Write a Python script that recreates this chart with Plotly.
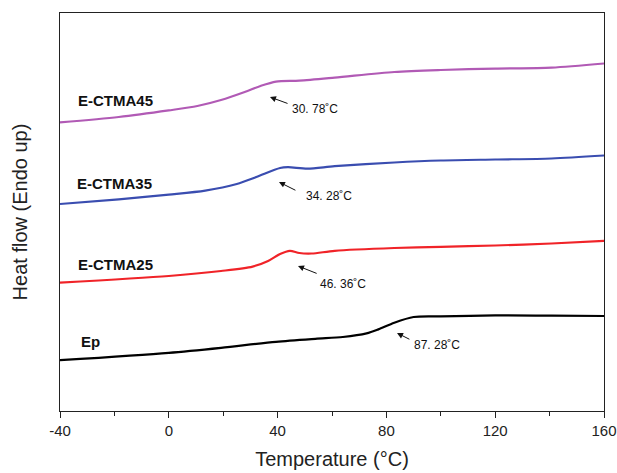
import plotly.graph_objects as go

# Temperature (°C) and heat flow (arbitrary units, Endo up)
t_ep = [-40, 0, 19.2, 39.4, 53.9, 64, 72.7, 77, 82.9, 90, 100, 120, 140.7, 160]
hf_ep = [50.8, 58.2, 63.2, 69.2, 72.2, 74, 77.6, 81.6, 88.3, 94, 94.6, 95.6, 95.3, 95]

t_25 = [-40, 0, 19.2, 30.8, 36.5, 40.9, 44.5, 48, 52.5, 61, 82.9, 100, 120, 140.7, 160]
hf_25 = [128.4, 135, 140, 144.4, 150, 157, 160.2, 158, 157.5, 160.2, 163, 164.2, 165.5, 167.5, 170.2]

t_35 = [-40, -18.4, 0, 13.4, 25, 32.2, 40.9, 43.8, 51, 61, 82.9, 100, 120, 140.7, 160]
hf_35 = [207, 211.7, 216.4, 220.4, 227, 234, 243, 243.8, 242.4, 244.8, 248.5, 250.5, 251.5, 252.5, 255.5]

t_45 = [-40, -18.4, 0, 10.5, 19.2, 27.9, 33.7, 39.4, 48, 61, 82.9, 100, 120, 140.7, 160]
hf_45 = [288.6, 294, 300.6, 305, 311, 319, 325, 329.4, 330.4, 333.4, 339, 341, 342.4, 343.4, 347.5]

series_names = ["Ep", "E-CTMA25", "E-CTMA35", "E-CTMA45"]
series_colors = ["#000000", "#f02328", "#3a4db0", "#b15ab5"]
tg_labels = ["87. 28˚C", "46. 36˚C", "34. 28˚C", "30. 78˚C"]

# label positions (T, hf)
name_pos = [(-33.0, 70), (-34.0, 147), (-34.5, 228), (-34.0, 311)]
arrow_head = [(83.9, 78), (47.5, 145), (40.5, 229), (37.2, 314)]
arrow_tail = [(89.0, 71), (54.9, 137), (47.1, 220), (44.2, 307)]
tg_text_pos = [(98.6, 66.5), (63.9, 127), (58.9, 215.4), (53.75, 302)]

x_ticks = [-40, 0, 40, 80, 120, 160]

fig = go.Figure()
for t, hf, name, col in zip([t_ep, t_25, t_35, t_45], [hf_ep, hf_25, hf_35, hf_45],
                            series_names, series_colors):
    fig.add_trace(go.Scatter(x=t, y=hf, mode="lines", name=name,
                             line=dict(color=col, width=2.2, shape="spline", smoothing=0.8),
                             showlegend=False))

annotations = []
for i in range(4):
    annotations.append(dict(x=name_pos[i][0], y=name_pos[i][1], xref="x", yref="y",
                            text="<b>%s</b>" % series_names[i], showarrow=False,
                            xanchor="left", yanchor="middle",
                            font=dict(family="Liberation Sans, Arial", size=15, color="#111")))
    annotations.append(dict(x=arrow_head[i][0], y=arrow_head[i][1], xref="x", yref="y",
                            ax=arrow_tail[i][0], ay=arrow_tail[i][1], axref="x", ayref="y",
                            text="", showarrow=True, arrowhead=2, arrowsize=1.2,
                            arrowwidth=1, arrowcolor="#111", standoff=0, startstandoff=0))
    annotations.append(dict(x=tg_text_pos[i][0], y=tg_text_pos[i][1], xref="x", yref="y",
                            text=tg_labels[i], showarrow=False, xanchor="center",
                            yanchor="middle",
                            font=dict(family="Liberation Sans Narrow, Liberation Sans, Arial",
                                      size=12, color="#111")))

fig.update_layout(
    width=617, height=473,
    margin=dict(l=60, r=13, t=13, b=62),
    paper_bgcolor="white", plot_bgcolor="white",
    annotations=annotations,
    xaxis=dict(range=[-40, 160], tickvals=x_ticks, ticktext=[str(v) for v in x_ticks],
               automargin=False,
               showgrid=False, zeroline=False, showline=True, linecolor="#222",
               linewidth=1.3, mirror=True, ticks="outside", ticklen=6, tickwidth=1.2,
               tickcolor="#222",
               minor=dict(dtick=20, tick0=-40, ticks="outside", ticklen=4, tickwidth=1.2,
                          tickcolor="#222", showgrid=False),
               tickfont=dict(family="Liberation Sans, Arial", size=15, color="#222"),
               title=dict(text="Temperature (°C)", standoff=13,
                          font=dict(family="Liberation Sans, Arial", size=20, color="#222"))),
    yaxis=dict(range=[0, 398], showgrid=False, zeroline=False, showline=True,
               automargin=False,
               linecolor="#222", linewidth=1.3, mirror=True, showticklabels=False,
               ticks="",
               title=dict(text="Heat flow (Endo up)", standoff=25,
                          font=dict(family="Liberation Sans, Arial", size=20, color="#222"))),
)

fig.write_html("out.html", config={"displayModeBar": False},
               post_script="document.body.style.margin='0';document.body.style.overflow='hidden';")
